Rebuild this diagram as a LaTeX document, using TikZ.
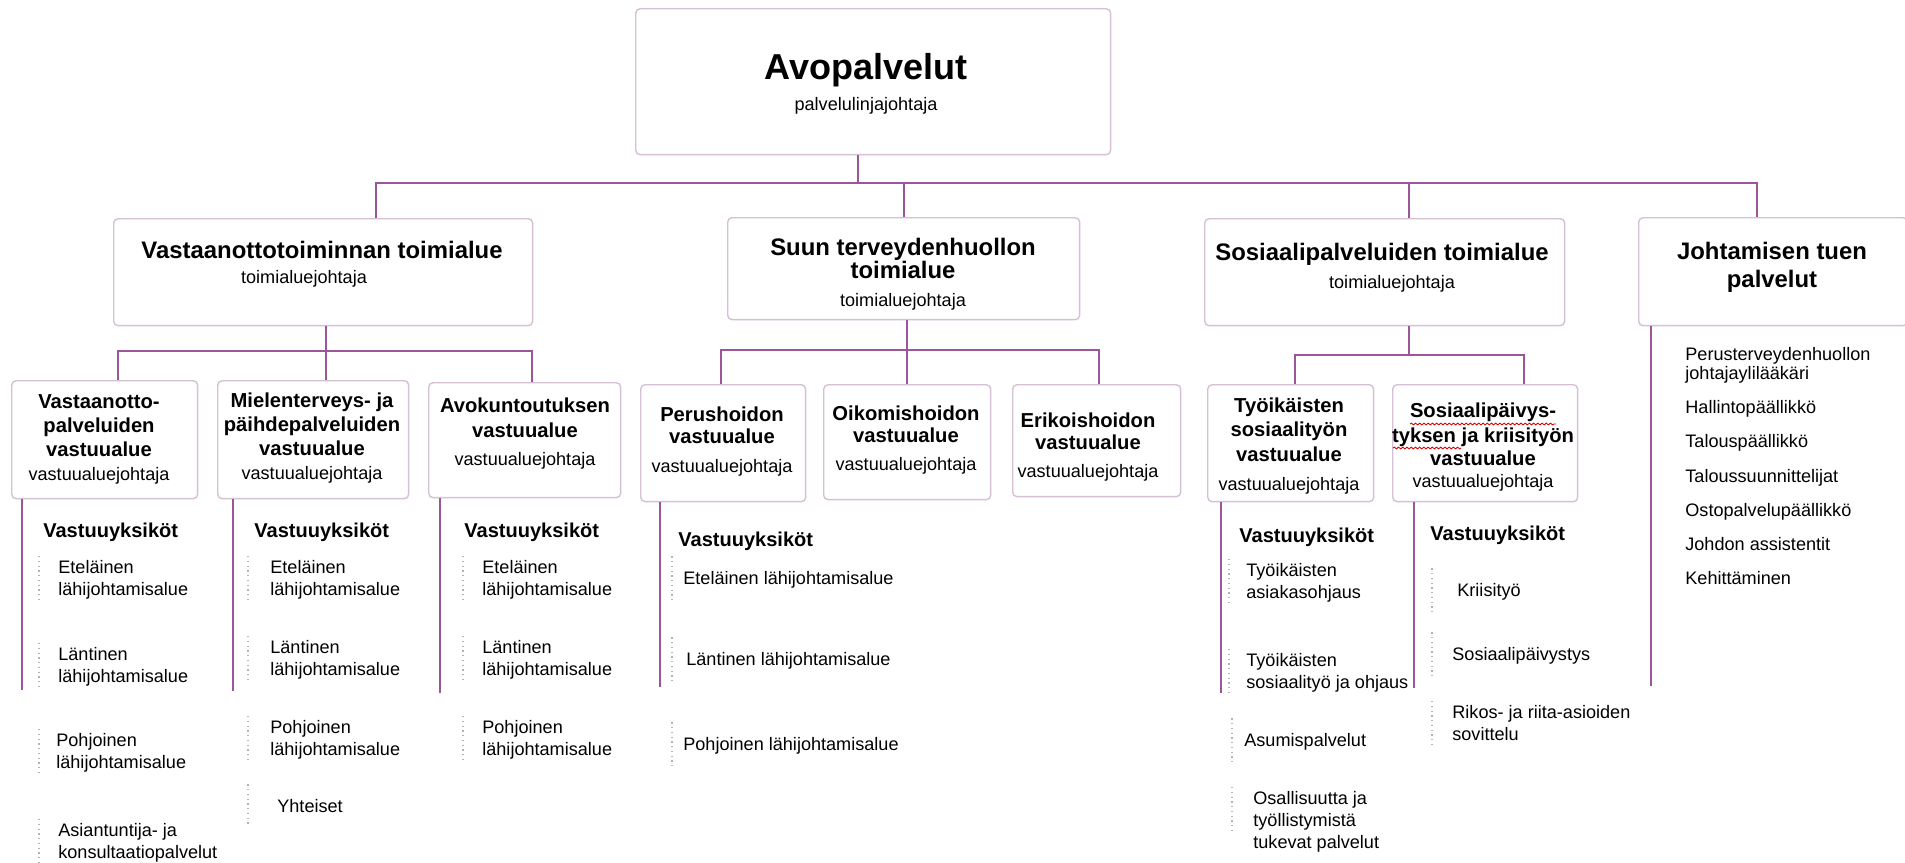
\documentclass[tikz,border=0pt]{standalone}
\usepackage{fontspec}
\setmainfont{Liberation Sans}
\usepackage{xcolor}
\usetikzlibrary{positioning,decorations.pathmorphing}

\definecolor{linepurple}{RGB}{155,85,155}
\definecolor{boxline}{RGB}{214,192,214}
\newcommand{\rolefont}{\fontsize{10.3}{12}\selectfont\mdseries}

\begin{document}
\begin{tikzpicture}[x=0.02cm, y=-0.02cm,
    box/.style={
      draw=boxline, fill=white, line width=0.8pt, rounded corners=2.5pt,
      anchor=north west, inner sep=0pt
    },
    conn/.style={draw=linepurple, line width=1.2pt},
    dotline/.style={draw=gray!60, dotted, line width=0.7pt},
    toptxt/.style={anchor=base, align=center, inner sep=0pt,
                   font=\fontsize{20.5}{17.1}\selectfont\bfseries},
    areatxt/.style={anchor=base, align=center, inner sep=0pt,
                    font=\fontsize{13.6}{13.1}\selectfont\bfseries},
    unittxt/.style={anchor=base, align=center, inner sep=0pt,
                    font=\fontsize{11.5}{13.7}\selectfont\bfseries},
    unithead/.style={anchor=base west, inner sep=0pt,
                     font=\fontsize{11.4}{13}\selectfont\bfseries},
    itemtxt/.style={anchor=base west, align=left, inner ysep=2pt, inner xsep=#1,
                    font=\fontsize{10.3}{12.5}\selectfont},
    itemtxt/.default=0.38cm,
    listtxt/.style={anchor=base west, align=left, inner sep=0pt,
                    font=\fontsize{10.3}{10.8}\selectfont},
    spell/.style={draw=red!85!black, line width=0.5pt, decorate,
                  decoration={snake, amplitude=0.5pt, segment length=2.4pt}}
  ]

  \fill[white] (0,0) rectangle (1905,862);
  \useasboundingbox (0,0) rectangle (1905,862);

  % ===== Top: service line =====
  \node[box, minimum width=9.50cm, minimum height=2.92cm] (avo) at (635,8) {};
  \node[toptxt] (avoT) at (866,110) {Avopalvelut\\{\rolefont palvelulinjajohtaja}};

  % ===== Level 2: toimialueet =====
  \node[box, minimum width=8.38cm, minimum height=2.14cm] (vto) at (113,218) {};
  \node[areatxt] (vtoT) at (322,283)
    {Vastaanottotoiminnan toimialue\\[1.1pt]{\rolefont\hspace*{-0.72cm}toimialuejohtaja}};

  \node[box, minimum width=7.04cm, minimum height=2.04cm] (suun) at (727,217) {};
  \node[areatxt] (suunT) at (903,306)
    {Suun terveydenhuollon\\toimialue\\[2.8pt]{\rolefont toimialuejohtaja}};

  \node[box, minimum width=7.20cm, minimum height=2.14cm] (sos) at (1204,218) {};
  \node[areatxt] (sosT) at (1382,288)
    {Sosiaalipalveluiden toimialue\\[2.8pt]{\rolefont\hspace*{0.4cm}toimialuejohtaja}};

  \node[box, minimum width=5.38cm, minimum height=2.16cm] (joht) at (1638,217) {};
  \node[areatxt] (johtT) at (1772,287) {Johtamisen tuen\\[2.3pt]palvelut};

  % Connectors from the top box
  \coordinate (bus0) at (858,183);
  \coordinate (busL) at (376,183);
  \coordinate (busS) at (1409,183);
  \coordinate (busR) at (1757,183);
  \draw[conn] (avo.south -| bus0) -- (bus0);
  \draw[conn] (vto.north -| busL) |- (busR) -- (joht.north -| busR);
  \draw[conn] (suun.north) -- (suun.north |- bus0);
  \draw[conn] (sos.north -| busS) -- (busS);

  % ===== Level 3: vastuualueet =====
  \node[box, minimum width=3.72cm, minimum height=2.36cm] (vop) at (11,380) {};
  \node[unittxt] (vopT) at (99,480)
    {Vastaanotto-\\palveluiden\\vastuualue\\[-0.6pt]{\rolefont vastuualuejohtaja}};

  \node[box, minimum width=3.82cm, minimum height=2.36cm] (mth) at (217,380) {};
  \node[unittxt] (mthT) at (312,479)
    {Mielenterveys- ja\\päihdepalveluiden\\vastuualue\\[-0.6pt]{\rolefont vastuualuejohtaja}};

  \node[box, minimum width=3.84cm, minimum height=2.30cm] (avk) at (428,382) {};
  \node[unittxt] (avkT) at (525,465)
    {Avokuntoutuksen\\[0.9pt]vastuualue\\[1.7pt]{\rolefont vastuualuejohtaja}};

  \node[box, minimum width=3.30cm, minimum height=2.34cm] (peru) at (640,384) {};
  \node[unittxt] (peruT) at (722,472)
    {Perushoidon\\[-1.2pt]vastuualue\\[2.8pt]{\rolefont vastuualuejohtaja}};

  \node[box, minimum width=3.34cm, minimum height=2.30cm] (oiko) at (823,384) {};
  \node[unittxt] (oikoT) at (906,470)
    {Oikomishoidon\\[-1.2pt]vastuualue\\[1.7pt]{\rolefont vastuualuejohtaja}};

  \node[box, minimum width=3.36cm, minimum height=2.24cm] (erik) at (1012,384) {};
  \node[unittxt] (erikT) at (1088,477)
    {Erikoishoidon\\[-1.2pt]vastuualue\\[1.7pt]{\rolefont vastuualuejohtaja}};

  \node[box, minimum width=3.32cm, minimum height=2.34cm] (tyo) at (1207,384) {};
  \node[unittxt] (tyoT) at (1289,490)
    {Työikäisten\\sosiaalityön\\vastuualue\\[2.8pt]{\rolefont vastuualuejohtaja}};

  \node[box, minimum width=3.70cm, minimum height=2.34cm] (spv) at (1392,384) {};
  \node[unittxt] (spvT) at (1483,487)
    {Sosiaalipäivys-\\tyksen ja kriisityön\\[-0.6pt]vastuualue\\[-1.2pt]{\rolefont vastuualuejohtaja}};
  % spell-check marks
  \draw[spell] (1410,424) -- (1556,424);
  \draw[spell] (1393,448) -- (1461,448);

  % Connectors to level 3
  \coordinate (vbusL) at (118,351);
  \coordinate (vbusM) at (326,351);
  \coordinate (vbusR) at (532,351);
  \draw[conn] (vto.south -| vbusM) -- (mth.north -| vbusM);
  \draw[conn] (vop.north -| vbusL) |- (vbusR) -- (avk.north -| vbusR);

  \coordinate (sbusL) at (721,350);
  \coordinate (sbusR) at (1099,350);
  \draw[conn] (oiko.north) -- (oiko.north |- suun.south);
  \draw[conn] (peru.north -| sbusL) |- (sbusR) -- (erik.north -| sbusR);

  \coordinate (obusL) at (1295,355);
  \coordinate (obusM) at (1409,355);
  \coordinate (obusR) at (1524,355);
  \draw[conn] (sos.south -| obusM) -- (obusM);
  \draw[conn] (tyo.north -| obusL) |- (obusR) -- (spv.north -| obusR);

  % ===== Vastuuyksiköt columns =====
  \coordinate (vopEnd) at (22,690);
  \coordinate (mthEnd) at (233,691);
  \coordinate (avkEnd) at (440,693);
  \coordinate (peruEnd) at (660,687);
  \coordinate (tyoEnd) at (1221,693);
  \coordinate (spvEnd) at (1414,688);
  \coordinate (johtEnd) at (1651,686);
  \draw[conn] (vop.south -| vopEnd) -- (vopEnd);
  \draw[conn] (mth.south -| mthEnd) -- (mthEnd);
  \draw[conn] (avk.south -| avkEnd) -- (avkEnd);
  \draw[conn] (peru.south -| peruEnd) -- (peruEnd);
  \draw[conn] (tyo.south -| tyoEnd) -- (tyoEnd);
  \draw[conn] (spv.south -| spvEnd) -- (spvEnd);
  \draw[conn] (joht.south -| johtEnd) -- (johtEnd);

  % Vastaanottopalvelut
  \node[unithead] (vopH) at (43,537) {Vastuuyksiköt};
  \node[itemtxt] (vop1) at (39,595) {Eteläinen\\lähijohtamisalue};
  \draw[dotline] (vop1.north west) -- (vop1.south west);
  \node[itemtxt] (vop2) at (39,682) {Läntinen\\lähijohtamisalue};
  \draw[dotline] (vop2.north west) -- (vop2.south west);
  \node[itemtxt=0.34cm] (vop3) at (39,768) {Pohjoinen\\lähijohtamisalue};
  \draw[dotline] (vop3.north west) -- (vop3.south west);
  \node[itemtxt] (vop4) at (39,858) {Asiantuntija- ja\\konsultaatiopalvelut};
  \draw[dotline] (vop4.north west) -- (vop4.south west);

  % Mielenterveys- ja päihdepalvelut
  \node[unithead] (mthH) at (254,537) {Vastuuyksiköt};
  \node[itemtxt=0.44cm] (mth1) at (248,595) {Eteläinen\\lähijohtamisalue};
  \draw[dotline] (mth1.north west) -- (mth1.south west);
  \node[itemtxt=0.44cm] (mth2) at (248,675) {Läntinen\\lähijohtamisalue};
  \draw[dotline] (mth2.north west) -- (mth2.south west);
  \node[itemtxt=0.44cm] (mth3) at (248,755) {Pohjoinen\\lähijohtamisalue};
  \draw[dotline] (mth3.north west) -- (mth3.south west);
  \node[itemtxt=0.58cm, inner ysep=8pt] (mth4) at (248,812) {Yhteiset};
  \draw[dotline] (mth4.north west) -- (mth4.south west);

  % Avokuntoutus
  \node[unithead] (avkH) at (464,537) {Vastuuyksiköt};
  \node[itemtxt] (avk1) at (463,595) {Eteläinen\\lähijohtamisalue};
  \draw[dotline] (avk1.north west) -- (avk1.south west);
  \node[itemtxt] (avk2) at (463,675) {Läntinen\\lähijohtamisalue};
  \draw[dotline] (avk2.north west) -- (avk2.south west);
  \node[itemtxt] (avk3) at (463,755) {Pohjoinen\\lähijohtamisalue};
  \draw[dotline] (avk3.north west) -- (avk3.south west);

  % Perushoito
  \node[unithead] (peruH) at (678,546) {Vastuuyksiköt};
  \node[itemtxt=0.22cm, inner ysep=8pt] (peru1) at (672,584) {Eteläinen lähijohtamisalue};
  \draw[dotline] (peru1.north west) -- (peru1.south west);
  \node[itemtxt=0.28cm, inner ysep=8pt] (peru2) at (672,665) {Läntinen lähijohtamisalue};
  \draw[dotline] (peru2.north west) -- (peru2.south west);
  \node[itemtxt=0.22cm, inner ysep=8pt] (peru3) at (672,750) {Pohjoinen lähijohtamisalue};
  \draw[dotline] (peru3.north west) -- (peru3.south west);

  % Työikäisten sosiaalityö
  \node[unithead] (tyoH) at (1239,542) {Vastuuyksiköt};
  \node[itemtxt=0.34cm] (tyo1) at (1229,598) {Työikäisten\\asiakasohjaus};
  \draw[dotline] (tyo1.north west) -- (tyo1.south west);
  \node[itemtxt=0.34cm] (tyo2) at (1229,688) {Työikäisten\\sosiaalityö ja ohjaus};
  \draw[dotline] (tyo2.north west) -- (tyo2.south west);
  \node[itemtxt=0.24cm, inner ysep=8pt] (tyo3) at (1232,746) {Asumispalvelut};
  \draw[dotline] (tyo3.north west) -- (tyo3.south west);
  \node[itemtxt=0.42cm] (tyo4) at (1232,848)
    {Osallisuutta ja\\työllistymistä\\tukevat palvelut};
  \draw[dotline] (tyo4.north west) -- ([yshift=0.5cm]tyo4.south west);

  % Sosiaalipäivystys ja kriisityö
  \node[unithead] (spvH) at (1430,540) {Vastuuyksiköt};
  \node[itemtxt=0.50cm, inner ysep=8pt] (spv1) at (1432,596) {Kriisityö};
  \draw[dotline] (spv1.north west) -- (spv1.south west);
  \node[itemtxt=0.40cm, inner ysep=8pt] (spv2) at (1432,660) {Sosiaalipäivystys};
  \draw[dotline] (spv2.north west) -- (spv2.south west);
  \node[itemtxt=0.40cm] (spv3) at (1432,740) {Rikos- ja riita-asioiden\\sovittelu};
  \draw[dotline] (spv3.north west) -- (spv3.south west);

  % Johtamisen tuen palvelut
  \node[listtxt] (sup1) at (1685,379) {Perusterveydenhuollon\\johtajaylilääkäri};
  \node[listtxt] (sup2) at (1685,413) {Hallintopäällikkö};
  \node[listtxt] (sup3) at (1685,447) {Talouspäällikkö};
  \node[listtxt] (sup4) at (1685,482) {Taloussuunnittelijat};
  \node[listtxt] (sup5) at (1685,516) {Ostopalvelupäällikkö};
  \node[listtxt] (sup6) at (1685,550) {Johdon assistentit};
  \node[listtxt] (sup7) at (1685,584) {Kehittäminen};

\end{tikzpicture}
\end{document}
